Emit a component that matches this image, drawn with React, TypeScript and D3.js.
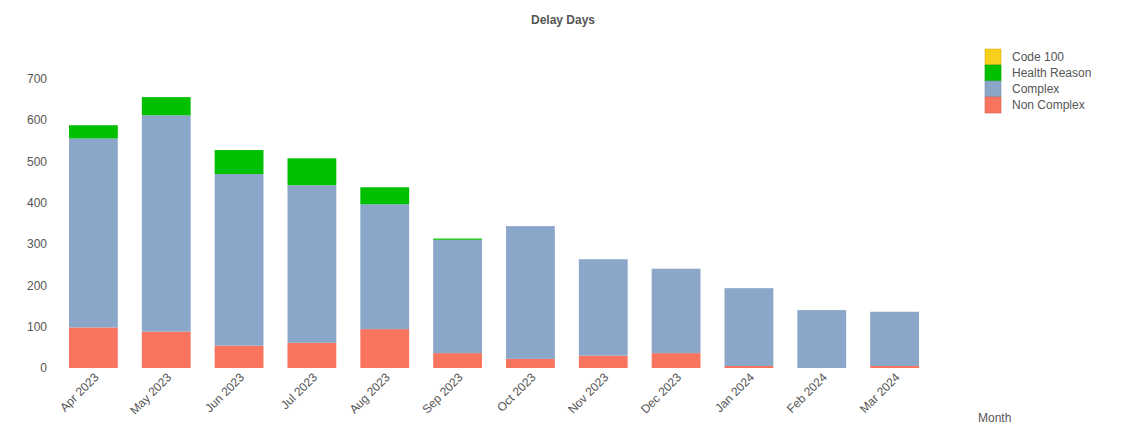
import * as d3 from "d3";
import React, { useEffect, useRef } from "react";

// months on the x axis
const months = [
  "Apr 2023", "May 2023", "Jun 2023", "Jul 2023", "Aug 2023", "Sep 2023",
  "Oct 2023", "Nov 2023", "Dec 2023", "Jan 2024", "Feb 2024", "Mar 2024",
];

// stacked series, bottom to top
const nonComplex = [98, 88, 54, 61, 94, 36, 22, 30, 36, 5, 0, 5];
const complex = [457, 523, 415, 381, 302, 274, 321, 233, 204, 188, 140, 131];
const healthReason = [32, 44, 58, 65, 41, 3, 0, 0, 0, 0, 0, 0];
const code100 = [0, 0, 0, 0, 0, 0, 0, 0, 0, 0, 0, 0];

const seriesKeys = ["Non Complex", "Complex", "Health Reason", "Code 100"];
const seriesColors = ["#f9745f", "#8aa6c8", "#00c000", "#f8cf1d"];
const legendOrder = ["Code 100", "Health Reason", "Complex", "Non Complex"];
const yTicks = [0, 100, 200, 300, 400, 500, 600, 700];

const W = 1122;
const H = 430;
const FONT = "'Liberation Sans', Arial, sans-serif";

const DelayChart: React.FC = () => {
  const ref = useRef<SVGSVGElement>(null);

  useEffect(() => {
    if (!ref.current) return;
    const svg = d3.select(ref.current);
    svg.selectAll("*").remove();

    const rows = months.map((m, i) => ({
      month: m,
      "Non Complex": nonComplex[i],
      Complex: complex[i],
      "Health Reason": healthReason[i],
      "Code 100": code100[i],
    }));

    const x = d3.scaleBand().domain(months).range([69, 919]).paddingInner(0.33).paddingOuter(0);
    const y = d3.scaleLinear().domain([0, 700]).range([368, 78.5]);
    const color = d3.scaleOrdinal<string>().domain(seriesKeys).range(seriesColors);

    const stacked = d3.stack<any>().keys(seriesKeys)(rows);

    // title
    svg.append("text")
      .attr("x", 563).attr("y", 24)
      .attr("text-anchor", "middle")
      .style("font-family", FONT).style("font-size", "12px").style("font-weight", "bold")
      .attr("fill", "#555")
      .text("Delay Days");

    // bars
    svg.append("g")
      .selectAll("g")
      .data(stacked)
      .enter()
      .append("g")
      .attr("fill", (d) => color(d.key))
      .selectAll("rect")
      .data((d) => d)
      .enter()
      .append("rect")
      .attr("x", (d) => x(d.data.month)!)
      .attr("width", x.bandwidth())
      .attr("y", (d) => y(d[1]))
      .attr("height", (d) => Math.max(0, y(d[0]) - y(d[1])));

    // y axis labels
    const yAxis = svg.append("g").attr("transform", "translate(50,0)")
      .call(d3.axisLeft(y).tickValues(yTicks).tickSize(0).tickPadding(3));
    yAxis.select(".domain").remove();
    yAxis.selectAll("text")
      .style("font-family", FONT).style("font-size", "12px").attr("fill", "#555");

    // x axis labels, rotated
    const xAxis = svg.append("g").attr("transform", "translate(3,375)")
      .call(d3.axisBottom(x).tickSize(0).tickPadding(0));
    xAxis.select(".domain").remove();
    xAxis.selectAll("text")
      .attr("y", 0).attr("dy", "0.35em")
      .attr("transform", "rotate(-45)")
      .style("text-anchor", "end")
      .style("font-family", FONT).style("font-size", "12px").attr("fill", "#555");

    svg.append("text")
      .attr("x", 978).attr("y", 422)
      .style("font-family", FONT).style("font-size", "12px")
      .attr("fill", "#555")
      .text("Month");

    // legend
    const legend = svg.append("g").attr("transform", "translate(985,49)");
    legendOrder.forEach((key, i) => {
      const g = legend.append("g").attr("transform", `translate(0,${i * 16})`);
      g.append("rect")
        .attr("width", 16).attr("height", 16)
        .attr("fill", color(key))
        .attr("stroke", d3.color(color(key))!.darker(0.4).toString())
        .attr("stroke-width", 0.6);
      g.append("text")
        .attr("x", 27).attr("y", 8).attr("dy", "0.35em")
        .style("font-family", FONT).style("font-size", "12px")
        .attr("fill", "#555")
        .text(key);
    });
  }, []);

  return <svg ref={ref} width={W} height={H} style={{ display: "block", background: "#fff" }} />;
};

export default function App() {
  return (
    <div style={{ position: "absolute", left: 0, top: 0 }}>
      <DelayChart />
    </div>
  );
}
